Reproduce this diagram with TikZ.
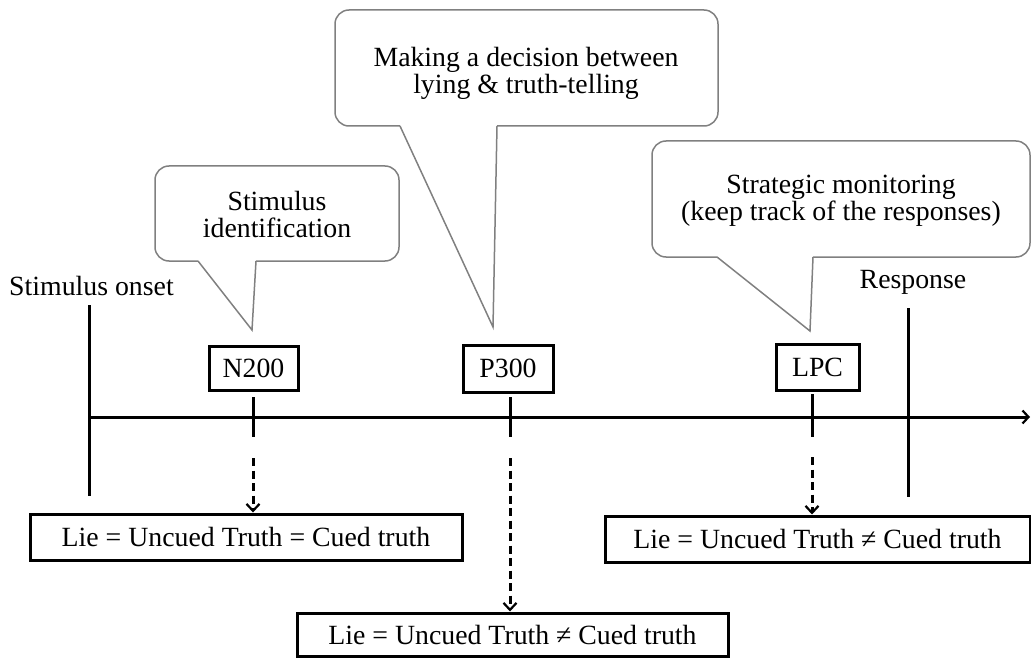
\documentclass[tikz,border=0pt]{standalone}
\usepackage{fontspec}
\setmainfont{Liberation Serif}
\usetikzlibrary{arrows.meta,calc}
\begin{document}
\begin{tikzpicture}[x=1pt,y=-1pt,
  every node/.style={font=\fontsize{27.8}{27}\selectfont, inner sep=0pt, align=center},
  erpbox/.style={draw, line width=3pt},
  resultbox/.style={draw, line width=3pt},
  callout/.style={draw=black!50, line width=1.5pt, line join=miter},
  axisline/.style={line width=3pt},
  tickline/.style={line width=3pt},
  dasharrow/.style={line width=3pt, dash pattern=on 8pt off 4.5pt,
    -{Straight Barb[length=7pt,width=13pt,line width=2.2pt]}}
]
\useasboundingbox (0,0) rectangle (1031,658);

% callouts
\node (c1) at (277,214) {Stimulus\\identification};
\draw[callout, rounded corners=14pt] (256,261) -- (399,261) -- (399,166) -- (155,166) -- (155,261) -- (198,261);
\draw[callout] (198,261) -- (252,330) -- (256,261);

\node (c2) at (526,73) {Making a decision between\\lying \& truth-telling};
\draw[callout, rounded corners=14pt] (497,126) -- (718,126) -- (718,10) -- (335,10) -- (335,126) -- (400,126);
\draw[callout] (400,126) -- (493,327) -- (497,126);

\node (c3) at (841,201) {Strategic monitoring\\(keep track of the responses)};
\draw[callout, rounded corners=14pt] (813,257) -- (1030,257) -- (1030,141) -- (652,141) -- (652,257) -- (717,257);
\draw[callout] (717,257) -- (810,331) -- (813,257);

% labels
\node (onset) at (91.5,286) {Stimulus onset};
\node (resp) at (913,282) {Response};

% ERP boxes
\node[erpbox, minimum width=89pt, minimum height=44pt] (n200) at (253.5,368) {N200};
\node[erpbox, minimum width=90pt, minimum height=47pt] (p300) at (508,368.5) {P300};
\node[erpbox, minimum width=83pt, minimum height=46pt] (lpc) at (817.5,367) {LPC};

% result boxes
\node[resultbox, minimum width=432pt, minimum height=46pt] (rl) at (246,537) {Lie = Uncued Truth = Cued truth};
\node[resultbox, minimum width=425pt, minimum height=46pt] (rr) at (817.5,539) {Lie = Uncued Truth ≠ Cued truth};
\node[resultbox, minimum width=431pt, minimum height=43pt] (rb) at (512.5,634.5) {Lie = Uncued Truth ≠ Cued truth};

% timeline
\coordinate (t0) at (89,417);
\coordinate (t1) at (1030,417);
\draw[axisline, -{Straight Barb[length=6pt,width=13pt,line width=2.2pt]}] (t0) -- (t1);
\coordinate (on0) at (89,305);
\coordinate (on1) at (89,496);
\draw[axisline] (on0) -- (on1);
\coordinate (re0) at (908,308);
\coordinate (re1) at (908,497);
\draw[axisline] (re0) -- (re1);

% ticks
\coordinate (k1a) at (253,397); \coordinate (k1b) at (253,437); \coordinate (d1) at (253,458);
\coordinate (k2a) at (510,397); \coordinate (k2b) at (510,437); \coordinate (d2) at (510,458);
\coordinate (k3a) at (812,394); \coordinate (k3b) at (812,437); \coordinate (d3) at (812,457);
\draw[tickline] (k1a) -- (k1b);
\draw[tickline] (k2a) -- (k2b);
\draw[tickline] (k3a) -- (k3b);

% dashed arrows
\draw[dasharrow] (d1) -- (d1 |- rl.north);
\draw[dasharrow] (d2) -- (d2 |- rb.north);
\draw[dasharrow] (d3) -- (d3 |- rr.north);
\end{tikzpicture}
\end{document}
